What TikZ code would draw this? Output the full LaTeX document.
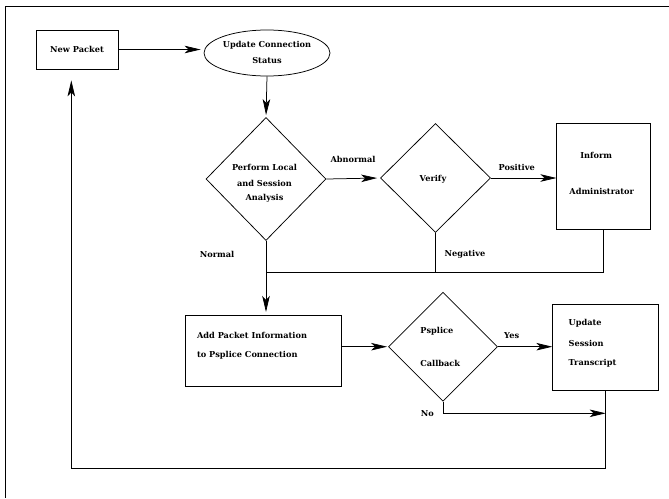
\documentclass[tikz,border=0pt]{standalone}
\usepackage{fontspec}
\setmainfont{DejaVu Serif}
\usetikzlibrary{arrows.meta,shapes.geometric}
\begin{document}
\begin{tikzpicture}[x=1pt,y=-1pt,
  line width=0.75pt,
  every node/.style={font=\fontsize{8.2}{10}\selectfont\bfseries},
  box/.style={draw,rectangle,inner sep=0pt},
  dia/.style={draw,diamond,inner sep=0pt},
  lbl/.style={inner sep=0pt},
  lft/.style={inner sep=0pt,anchor=west},
  arr/.style={-{Stealth[length=16pt,width=7.5pt,inset=4pt]}},
]
\useasboundingbox (0,0) rectangle (669,498);
\draw[line width=0.9pt] (669,6) -- (5,6) -- (5,498);

\node[box,minimum width=82pt,minimum height=39pt] (np) at (77,49.5) {New Packet};
\node[draw,ellipse,inner sep=0pt,minimum width=126pt,minimum height=46pt] (ucs) at (267,53) {};
\node[lbl] at (267,45) {Update Connection};
\node[lbl] at (267,61) {Status};

\node[dia,minimum width=120pt,minimum height=123pt] (d1) at (266,179) {};
\node[lbl] at (264.5,167) {Perform Local};
\node[lbl] at (264.5,183) {and Session};
\node[lbl] at (264.5,198) {Analysis};

\node[dia,minimum width=110pt,minimum height=109pt] (d2) at (435.5,178) {};
\node[lbl] at (433,179) {Verify};

\node[box,minimum width=94pt,minimum height=106pt] (inf) at (603.8,176.5) {};
\node[lbl] at (596.2,155) {Inform};
\node[lbl] at (601.7,191) {Administrator};

\node[box,minimum width=156.7pt,minimum height=70.7pt] (apb) at (263.3,350.7) {};
\node[lft] at (196.7,335.7) {Add Packet Information};
\node[lft] at (196.7,355.3) {to Psplice Connection};

\node[dia,minimum width=109pt,minimum height=109pt] (d3) at (443,346.7) {};
\node[lft] at (420,331) {Psplice};
\node[lft] at (420,363.3) {Callback};

\node[box,minimum width=106pt,minimum height=86pt] (usb) at (605.7,347) {};
\node[lft] at (568.3,323) {Update};
\node[lft] at (568.3,343.3) {Session};
\node[lft] at (568.3,363.3) {Transcript};

% labels
\node[lbl] at (353,159) {Abnormal};
\node[lbl] at (516.7,167) {Positive};
\node[lbl] at (217,254) {Normal};
\node[lbl] at (465,254) {Negative};
\node[lbl] at (511.7,335.3) {Yes};
\node[lbl] at (427.3,413.3) {No};

% connectors
\draw[arr,shorten >=3pt] (np.east) -- (np.east -| ucs.west);
\draw[arr,shorten >=2pt] (ucs.south) -- (d1.north);
\draw[arr,shorten >=3pt] (d1.east) -- (d2.west);
\draw[arr] (d2.east) -- (d2.east -| inf.west);
\coordinate (j) at (d1.south |- 0,272);
\draw[arr,shorten >=3pt] (d1.south) -- (d1.south |- apb.north);
\draw (d2.south) -- (d2.south |- j);
\draw (inf.south) |- (j);
\draw[arr,shorten >=1pt] (d3.west -| apb.east) -- (d3.west);
\draw[arr] (d3.east) -- (d3.east -| usb.west);
\coordinate (nj) at (usb.south |- 0,413.3);
\draw[arr] (d3.south) |- (nj);
\coordinate (bl) at (usb.south |- 0,468.3);
\draw[arr,shorten >=11pt] (usb.south) -- (bl) -| ([xshift=-5.7pt]np.south);
\end{tikzpicture}
\end{document}
